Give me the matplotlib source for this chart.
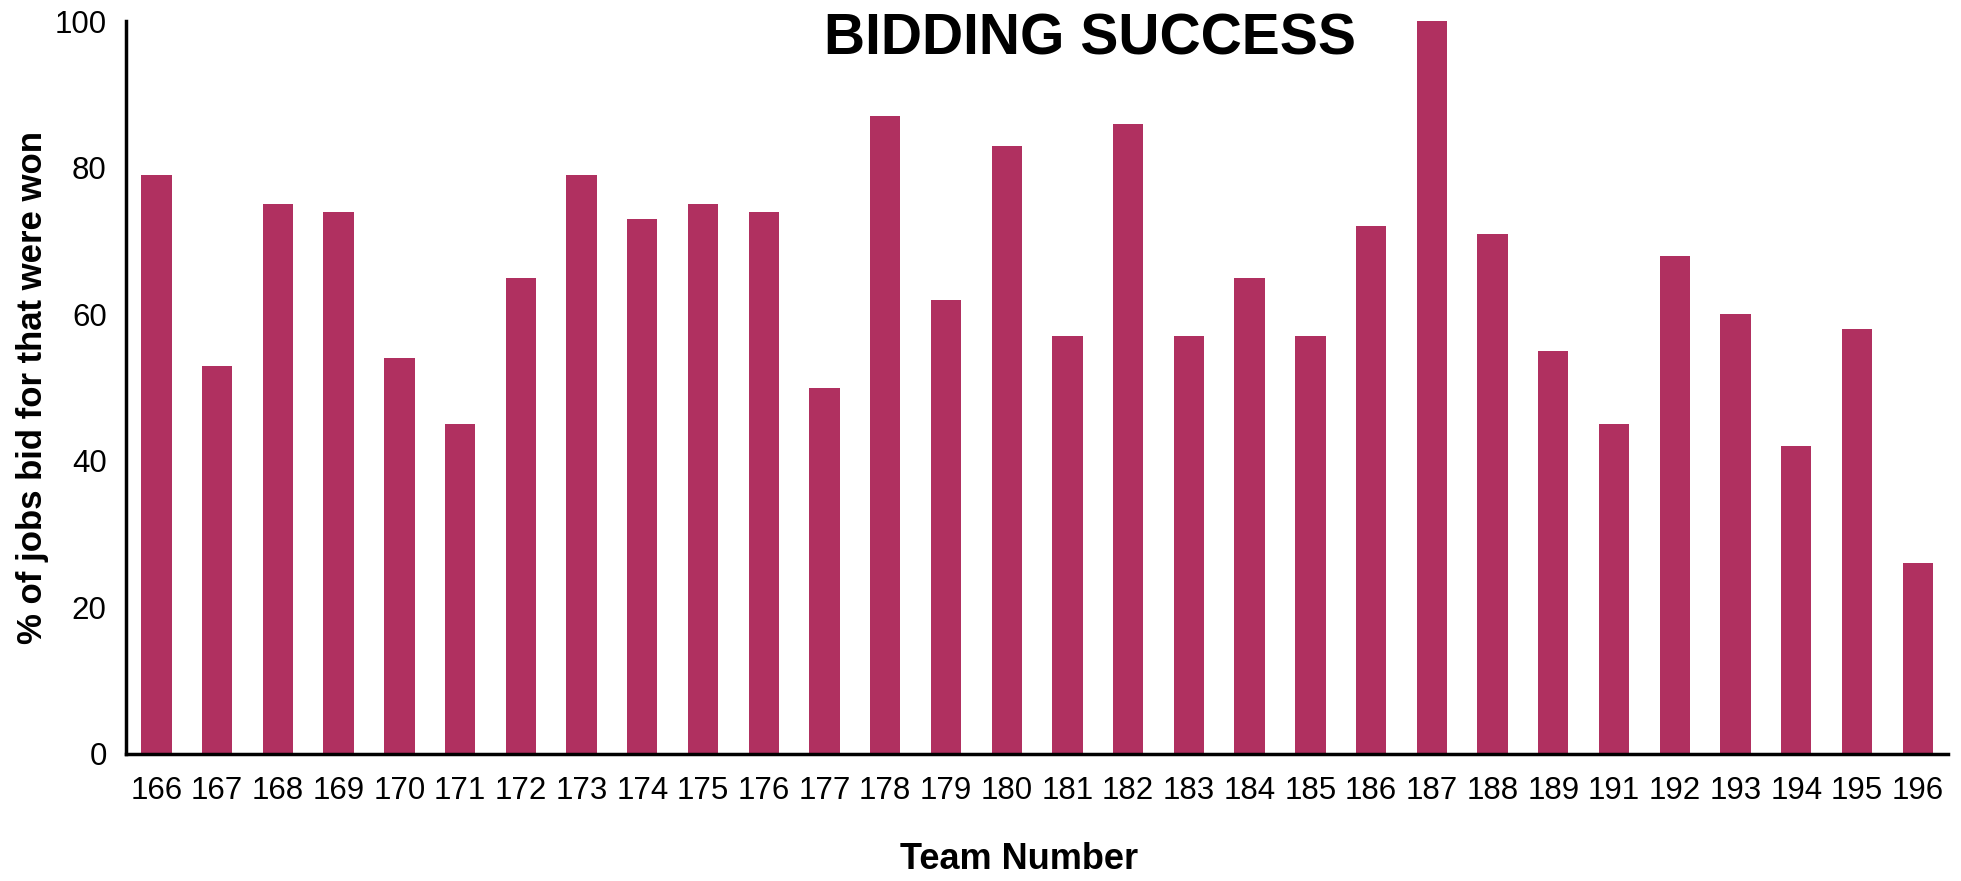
import matplotlib
matplotlib.use("Agg")
import matplotlib.pyplot as plt

# données
teams = ["166", "167", "168", "169", "170", "171", "172", "173", "174", "175",
         "176", "177", "178", "179", "180", "181", "182", "183", "184", "185",
         "186", "187", "188", "189", "191", "192", "193", "194", "195", "196"]
pct_won = [79, 53, 75, 74, 54, 45, 65, 79, 73, 75,
           74, 50, 87, 62, 83, 57, 86, 57, 65, 57,
           72, 100, 71, 55, 45, 68, 60, 42, 58, 26]
y_ticks = [0, 20, 40, 60, 80, 100]

plt.rcParams['font.family'] = ['Liberation Sans', 'DejaVu Sans']

fig = plt.figure(figsize=(19.61, 8.81), dpi=100)
ax = fig.add_axes([0.0643, 0.1442, 0.9291, 0.8318])

x = range(len(teams))
ax.bar(x, pct_won, width=0.5, color='#B03060')

ax.set_xlim(-0.5, len(teams) - 0.5)
ax.set_ylim(0, 100)
ax.set_xticks(list(x))
ax.set_xticklabels(teams, fontsize=22.5)
ax.set_yticks(y_ticks)
ax.set_yticklabels([str(v) for v in y_ticks], fontsize=22.5)
ax.tick_params(axis='x', length=0, pad=16)
ax.tick_params(axis='y', length=0, pad=14)

# seulement les axes gauche et bas
ax.spines['top'].set_visible(False)
ax.spines['right'].set_visible(False)
ax.spines['left'].set_linewidth(2.5)
ax.spines['bottom'].set_linewidth(2.5)

ax.set_xlabel('Team Number', fontsize=26, fontweight='bold', va='center')
ax.xaxis.set_label_coords(0.49, -0.1446)
ax.set_ylabel('% of jobs bid for that were won', fontsize=25, fontweight='bold', labelpad=4)

fig.text(0.556, 0.955, 'BIDDING SUCCESS', fontsize=41, fontweight='bold',
         ha='center', va='center')

fig.savefig('out.png', dpi=100)
